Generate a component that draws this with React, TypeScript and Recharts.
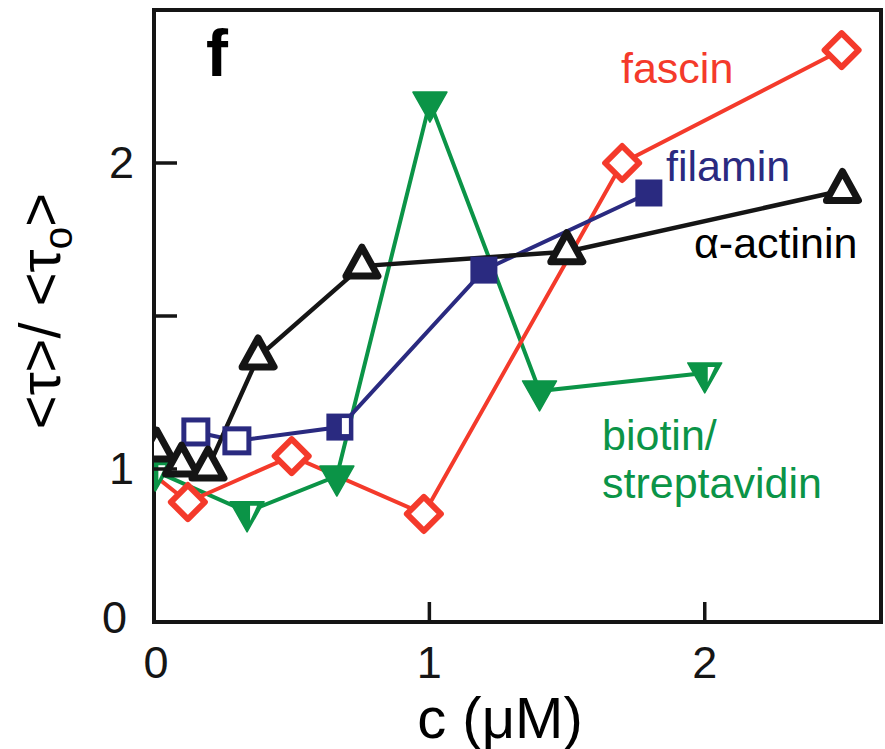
import React from 'react';
import { LineChart, Line, XAxis, YAxis, ReferenceArea } from 'recharts';

// ---- data ----
const fascinC = [0, 0.123, 0.5, 0.98, 1.7, 2.497];
const fascinR = [0.98, 0.892, 1.042, 0.853, 2.0, 2.369];

const filaminC = [0.152, 0.301, 0.675, 1.198, 1.797];
const filaminR = [1.121, 1.092, 1.137, 1.65, 1.902];

const actininC = [0.01, 0.1, 0.196, 0.378, 0.755, 1.499, 2.5];
const actininR = [1.065, 1.016, 1.003, 1.366, 1.663, 1.71, 1.91];

const biotinC = [0.005, 0.338, 0.664, 1.002, 1.4, 2.0];
const biotinR = [0.993, 0.86, 0.977, 2.199, 1.255, 1.314];

const xTicks = [0, 1, 2];
const xTickLabels = ['0', '1', '2'];
const yTicks = [0.5, 1, 1.5, 2];
const yTickLabels = ['0', '1', '', '2'];
const topTicks = [1, 2];
const rightTicks = [1, 1.5, 2];
const xDomain = [0, 2.64];
const yDomain = [0.5, 2.5];

const seriesNames = ['fascin', 'filamin', 'α-actinin', 'biotin/', 'streptavidin'];

// ---- styles ----
const RED = '#F43A2B';
const NAVY = '#2A2A80';
const INK = '#151515';
const GREEN = '#0B9447';
const FONT = '"Liberation Sans", Arial, Helvetica, sans-serif';

const rows = (c: number[], r: number[]) => c.map((x, i) => ({ c: x, r: r[i] }));
const fascinData = rows(fascinC, fascinR);
const filaminData = rows(filaminC, filaminR);
const actininData = rows(actininC, actininR);
const biotinData = rows(biotinC, biotinR);

const Diamond = (p: any) => {
  const { cx, cy, index } = p;
  if (index === 0 || cx == null) return <g key={`fd-${index}`} />;
  const h = 17;
  return (
    <path
      key={`fd-${index}`}
      d={`M${cx},${cy - h}L${cx + h},${cy}L${cx},${cy + h}L${cx - h},${cy}Z`}
      fill="#fff"
      stroke={RED}
      strokeWidth={6}
      strokeLinejoin="round"
    />
  );
};

const Square = (p: any) => {
  const { cx, cy, index } = p;
  if (cx == null) return <g key={`fs-${index}`} />;
  if (index < 2) {
    const s = 24;
    return (
      <rect key={`fs-${index}`} x={cx - s / 2} y={cy - s / 2} width={s} height={s}
        fill="#fff" stroke={NAVY} strokeWidth={5} />
    );
  }
  const s = 27;
  return (
    <g key={`fs-${index}`}>
      <rect x={cx - s / 2} y={cy - s / 2} width={s} height={s} fill={NAVY} />
      {index === 2 && <rect x={cx + 2} y={cy - 9} width={7} height={16} fill="#fff" />}
    </g>
  );
};

const TriUp = (p: any) => {
  const { cx, cy, index } = p;
  if (cx == null) return <g key={`ta-${index}`} />;
  return (
    <path
      key={`ta-${index}`}
      d={`M${cx},${cy - 19}L${cx + 16},${cy + 10}L${cx - 16},${cy + 10}Z`}
      fill="#fff"
      stroke={INK}
      strokeWidth={7}
      strokeLinejoin="round"
    />
  );
};

const TriDown = (p: any) => {
  const { cx, cy, index } = p;
  if (cx == null) return <g key={`tb-${index}`} />;
  const half = index === 0 || index === 1 || index === 5;
  return (
    <g key={`tb-${index}`}>
      <path d={`M${cx - 17},${cy - 10}L${cx + 17},${cy - 10}L${cx},${cy + 20}Z`} fill={GREEN}
        stroke={GREEN} strokeWidth={1.5} strokeLinejoin="round" />
      {half && (
        <path d={`M${cx + 3},${cy - 6}L${cx + 10},${cy - 6}L${cx + 3},${cy + 9}Z`} fill="#fff" />
      )}
    </g>
  );
};

const LeftTick = (p: any) => {
  const { x, y, payload } = p;
  const v = payload.value;
  const isBottom = v === yDomain[0];
  return (
    <g>
      {!isBottom && <line x1={x} y1={y} x2={x + 23} y2={y} stroke={INK} strokeWidth={3.5} />}
      <text x={isBottom ? x - 27 : x - 20} y={isBottom ? y + 11 : y + 15} textAnchor="end"
        fontSize={45} fontFamily={FONT} fill={INK}>
        {yTickLabels[yTicks.indexOf(v)] ?? ''}
      </text>
    </g>
  );
};

const BottomTick = (p: any) => {
  const { x, y, payload } = p;
  const v = payload.value;
  return (
    <g>
      {v !== xDomain[0] && <line x1={x} y1={y} x2={x} y2={y - 20} stroke={INK} strokeWidth={3.5} />}
      <text x={v === 0 ? x + 2 : x} y={y + 56} textAnchor="middle" fontSize={45} fontFamily={FONT} fill={INK}>
        {xTickLabels[xTicks.indexOf(v)]}
      </text>
    </g>
  );
};

const TopTick = (p: any) => {
  const { x, y } = p;
  return <line x1={x} y1={y} x2={x} y2={y + 14} stroke={INK} strokeWidth={3.5} />;
};

const RightTick = (p: any) => {
  const { x, y } = p;
  return <line x1={x} y1={y} x2={x - 21} y2={y} stroke={INK} strokeWidth={3.5} />;
};

export default function App() {
  return (
    <div style={{ position: 'absolute', left: 0, top: 0, width: 885, height: 749, background: '#fff' }}>
      <LineChart width={885} height={749} margin={{ top: 10, right: 4, bottom: 0, left: 0 }}>
        <XAxis
          xAxisId={0}
          dataKey="c"
          type="number"
          domain={xDomain}
          ticks={xTicks}
          interval={0}
          allowDataOverflow
          height={127}
          axisLine={false}
          tickLine={false}
          tickSize={0}
          tickMargin={0}
          tick={BottomTick}
        />
        <XAxis
          xAxisId="top"
          orientation="top"
          dataKey="c"
          type="number"
          domain={xDomain}
          ticks={topTicks}
          interval={0}
          allowDataOverflow
          height={0}
          axisLine={false}
          tickLine={false}
          tickSize={0}
          tickMargin={0}
          tick={TopTick}
        />
        <YAxis
          yAxisId={0}
          type="number"
          domain={yDomain}
          ticks={yTicks}
          interval={0}
          allowDataOverflow
          width={154}
          axisLine={false}
          tickLine={false}
          tickSize={0}
          tickMargin={0}
          tick={LeftTick}
        />
        <YAxis
          yAxisId="right"
          orientation="right"
          type="number"
          domain={yDomain}
          ticks={rightTicks}
          interval={0}
          allowDataOverflow
          width={0}
          axisLine={false}
          tickLine={false}
          tickSize={0}
          tickMargin={0}
          tick={RightTick}
        />
        <ReferenceArea
          x1={xDomain[0]}
          x2={xDomain[1]}
          y1={yDomain[0]}
          y2={yDomain[1]}
          fill="none"
          fillOpacity={0}
          stroke={INK}
          strokeWidth={4}
          ifOverflow="visible"
        />
        <Line data={biotinData} dataKey="r" type="linear" stroke={GREEN} strokeWidth={4}
          dot={TriDown} activeDot={false} isAnimationActive={false} />
        <Line data={fascinData} dataKey="r" type="linear" stroke={RED} strokeWidth={4}
          dot={Diamond} activeDot={false} isAnimationActive={false} />
        <Line data={filaminData} dataKey="r" type="linear" stroke={NAVY} strokeWidth={4}
          dot={Square} activeDot={false} isAnimationActive={false} />
        <Line data={actininData} dataKey="r" type="linear" stroke={INK} strokeWidth={4.5}
          dot={TriUp} activeDot={false} isAnimationActive={false} />
      </LineChart>
      <svg width={885} height={749} style={{ position: 'absolute', left: 0, top: 0, pointerEvents: 'none' }}>
        <text x={206} y={76} fontSize={66} fontWeight="bold" fontFamily={FONT} fill="#000">f</text>
        <text x={621} y={83} fontSize={43} fontFamily={FONT} fill={RED}>{seriesNames[0]}</text>
        <text x={666} y={181} fontSize={43} fontFamily={FONT} fill={NAVY}>{seriesNames[1]}</text>
        <text x={694} y={258} fontSize={43} fontFamily={FONT} fill="#000">{seriesNames[2]}</text>
        <text x={602} y={450} fontSize={43} fontFamily={FONT} fill={GREEN}>{seriesNames[3]}</text>
        <text x={602} y={498} fontSize={43} fontFamily={FONT} fill={GREEN}>{seriesNames[4]}</text>
        <text x={500} y={738} textAnchor="middle" fontSize={58} fontFamily={FONT} fill="#000">c (μM)</text>
        <text x={60} y={311} transform="rotate(-90 60 311)" textAnchor="middle" fontSize={58}
          fontFamily={FONT} fill="#000">
          {'<τ>/ <τ'}
          <tspan fontSize={41} dy={12}>o</tspan>
          <tspan dy={-12}>{'>'}</tspan>
        </text>
      </svg>
    </div>
  );
}
